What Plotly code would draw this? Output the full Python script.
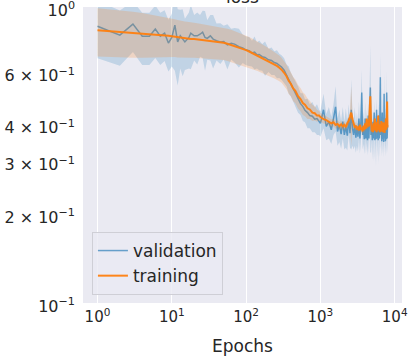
import numpy as np
import plotly.graph_objects as go

epochs = [
    1, 2, 3, 4, 5, 6, 7, 8, 9, 10, 11, 12, 13, 14, 15, 17, 18, 20, 22, 24,
    26, 28, 30, 33, 36, 40, 45, 50, 56, 63, 70, 80, 90, 100,
    110, 120, 130, 140, 150, 165, 180, 200, 220, 240, 260, 280, 300, 325,
    350, 375, 400, 430, 460, 500, 540, 580, 620, 670, 720, 780, 840, 900, 960,
    1000, 1100, 1200, 1300, 1400, 1500, 1600, 1700, 1800, 1900,
    2000, 2100, 2200, 2300, 2400, 2500, 2600, 2700, 2800, 2900,
    3000, 3100, 3200, 3300, 3400, 3500, 3600, 3700, 3800, 3900,
    4000, 4100, 4200, 4300, 4400, 4500, 4600, 4700, 4800, 4900,
    5000, 5100, 5200, 5300, 5400, 5500, 5600, 5700, 5800, 5900,
    6000, 6100, 6200, 6300, 6400, 6500, 6600, 6700, 6800, 6900,
    7000, 7100, 7200, 7300, 7400, 7500, 7600, 7700, 7800, 7900,
    8000,
]

val_loss = [
    0.862, 0.804, 0.876, 0.798, 0.798, 0.843, 0.798, 0.817, 0.756, 0.790,
    0.869, 0.763, 0.800, 0.784, 0.763, 0.790, 0.817, 0.800, 0.800, 0.810,
    0.823, 0.790, 0.784, 0.800, 0.780, 0.770, 0.763, 0.765, 0.745, 0.755,
    0.750, 0.735, 0.728, 0.716,
    0.712, 0.700, 0.705, 0.690, 0.692, 0.680, 0.676, 0.664, 0.660, 0.650,
    0.645, 0.636, 0.628, 0.612, 0.590, 0.570, 0.550, 0.530, 0.510, 0.490,
    0.472, 0.462, 0.448, 0.440, 0.430, 0.428, 0.418, 0.420, 0.410,
    0.405, 0.450, 0.395, 0.410, 0.385, 0.420, 0.460, 0.380, 0.400, 0.372,
    0.410, 0.370, 0.395, 0.368, 0.420, 0.375, 0.450, 0.390, 0.370, 0.400,
    0.362, 0.390, 0.365, 0.420, 0.360, 0.400, 0.515, 0.370, 0.395, 0.358,
    0.420, 0.360, 0.400, 0.355, 0.430, 0.360, 0.470, 0.535, 0.370, 0.400,
    0.355, 0.410, 0.360, 0.440, 0.355, 0.390, 0.358, 0.450, 0.360, 0.400,
    0.355, 0.430, 0.360, 0.410, 0.580, 0.370, 0.400, 0.352, 0.440, 0.358,
    0.395, 0.350, 0.510, 0.360, 0.420, 0.352, 0.400, 0.358, 0.515, 0.360,
    0.400,
]

val_std = [
    0.19, 0.17, 0.17, 0.16, 0.16, 0.17, 0.16, 0.16, 0.15, 0.16,
    0.26, 0.22, 0.18, 0.20, 0.15, 0.17, 0.20, 0.14, 0.16, 0.13,
    0.15, 0.18, 0.12, 0.14, 0.16, 0.11, 0.12, 0.10, 0.13, 0.09,
    0.10, 0.11, 0.08, 0.08,
    0.08, 0.07, 0.09, 0.07, 0.08, 0.07, 0.09, 0.06, 0.07, 0.06,
    0.07, 0.06, 0.06, 0.06, 0.05, 0.06, 0.05, 0.05, 0.05, 0.05,
    0.04, 0.05, 0.04, 0.05, 0.04, 0.05, 0.04, 0.05, 0.04,
    0.04, 0.06, 0.04, 0.05, 0.04, 0.05, 0.08, 0.04, 0.05, 0.04,
    0.05, 0.04, 0.06, 0.04, 0.05, 0.04, 0.12, 0.05, 0.04, 0.06,
    0.04, 0.05, 0.04, 0.06, 0.04, 0.05, 0.10, 0.04, 0.05, 0.04,
    0.06, 0.04, 0.05, 0.04, 0.07, 0.04, 0.06, 0.21, 0.05, 0.04,
    0.05, 0.04, 0.06, 0.04, 0.05, 0.04, 0.07, 0.04, 0.05, 0.04,
    0.06, 0.04, 0.05, 0.04, 0.12, 0.04, 0.05, 0.04, 0.06, 0.04,
    0.05, 0.04, 0.09, 0.04, 0.05, 0.04, 0.06, 0.04, 0.10, 0.04,
    0.05,
]

train_loss = [
    0.836, 0.826, 0.820, 0.815, 0.811, 0.808, 0.805, 0.802, 0.800, 0.797,
    0.794, 0.790, 0.787, 0.786, 0.785, 0.783, 0.781, 0.780, 0.778, 0.776,
    0.774, 0.772, 0.770, 0.768, 0.766, 0.764, 0.762, 0.758, 0.752, 0.745,
    0.738, 0.730, 0.722, 0.716,
    0.708, 0.700, 0.694, 0.688, 0.682, 0.674, 0.666, 0.657, 0.648, 0.640,
    0.633, 0.624, 0.615, 0.600, 0.584, 0.563, 0.551, 0.531, 0.521, 0.500,
    0.489, 0.474, 0.468, 0.455, 0.451, 0.440, 0.438, 0.430, 0.430,
    0.425, 0.418, 0.415, 0.410, 0.405, 0.408, 0.400, 0.403, 0.396, 0.402,
    0.395, 0.400, 0.393, 0.405, 0.412, 0.425, 0.440, 0.418, 0.402, 0.392,
    0.398, 0.386, 0.395, 0.383, 0.400, 0.385, 0.392, 0.380, 0.398, 0.384,
    0.405, 0.388, 0.420, 0.392, 0.415, 0.395, 0.450, 0.500, 0.410, 0.380,
    0.398, 0.378, 0.405, 0.385, 0.420, 0.382, 0.400, 0.378, 0.410, 0.383,
    0.430, 0.385, 0.402, 0.378, 0.398, 0.380, 0.412, 0.384, 0.395, 0.378,
    0.408, 0.382, 0.400, 0.376, 0.395, 0.382, 0.420, 0.385, 0.405, 0.480,
    0.392,
]

train_std = [
    0.155, 0.150, 0.145, 0.140, 0.135, 0.130, 0.127, 0.124, 0.121, 0.118,
    0.116, 0.114, 0.112, 0.111, 0.110, 0.108, 0.107, 0.105, 0.104, 0.103,
    0.102, 0.101, 0.100, 0.099, 0.098, 0.097, 0.096, 0.095, 0.094, 0.093,
    0.092, 0.090, 0.089, 0.087,
    0.085, 0.083, 0.081, 0.079, 0.077, 0.075, 0.073, 0.070, 0.068, 0.066,
    0.064, 0.062, 0.060, 0.058, 0.056, 0.054, 0.052, 0.050, 0.048, 0.046,
    0.044, 0.042, 0.040, 0.036, 0.032, 0.028, 0.024, 0.020, 0.016,
    0.015, 0.014, 0.013, 0.012, 0.012, 0.012, 0.012, 0.012, 0.012, 0.012,
    0.012, 0.012, 0.012, 0.012, 0.015, 0.020, 0.100, 0.020, 0.012, 0.012,
    0.012, 0.012, 0.012, 0.012, 0.012, 0.012, 0.012, 0.012, 0.012, 0.012,
    0.012, 0.012, 0.012, 0.012, 0.015, 0.012, 0.020, 0.050, 0.015, 0.012,
    0.012, 0.012, 0.012, 0.012, 0.012, 0.012, 0.012, 0.012, 0.012, 0.012,
    0.012, 0.012, 0.012, 0.012, 0.012, 0.012, 0.012, 0.012, 0.012, 0.012,
    0.012, 0.012, 0.012, 0.012, 0.012, 0.012, 0.015, 0.012, 0.012, 0.030,
    0.012,
]

x_ticks = [1, 10, 100, 1000, 10000]
x_labels = ["10<sup>0</sup>", "10<sup>1</sup>", "10<sup>2</sup>", "10<sup>3</sup>", "10<sup>4</sup>"]
y_ticks = [0.1, 0.2, 0.3, 0.4, 0.6, 1.0]
y_labels = ["10<sup>\u22121</sup>", "2 \u00d7 10<sup>\u22121</sup>", "3 \u00d7 10<sup>\u22121</sup>",
            "4 \u00d7 10<sup>\u22121</sup>", "6 \u00d7 10<sup>\u22121</sup>", "10<sup>0</sup>"]

BLUE = "31,119,180"
ORANGE = "255,127,14"
TEXT = "#262626"
FONT = "DejaVu Sans"


def add_series(fig, name, mean, std, rgb, line_alpha, width):
    mean = np.array(mean)
    std = np.array(std)
    fig.add_trace(go.Scatter(x=epochs, y=mean, mode="lines", name=name,
                             line=dict(color=f"rgba({rgb},{line_alpha})", width=width)))
    fig.add_trace(go.Scatter(x=epochs, y=mean + std, mode="lines", showlegend=False,
                             line=dict(width=0), hoverinfo="skip"))
    fig.add_trace(go.Scatter(x=epochs, y=mean - std, mode="lines", showlegend=False,
                             line=dict(width=0), fill="tonexty",
                             fillcolor=f"rgba({rgb},0.2)", hoverinfo="skip"))


fig = go.Figure()
add_series(fig, "validation", val_loss, val_std, BLUE, 0.65, 1.5)
add_series(fig, "training", train_loss, train_std, ORANGE, 0.95, 2)

fig.update_layout(
    width=412, height=358,
    margin=dict(l=83, r=10, t=7, b=55),
    paper_bgcolor="white",
    plot_bgcolor="#EAEAF2",
    font=dict(family=FONT, size=15, color=TEXT),
    legend=dict(x=0.028, y=0.027, xanchor="left", yanchor="bottom", traceorder="normal",
                bgcolor="rgba(234,234,242,0.8)", bordercolor="#cfcfd6", borderwidth=1,
                font=dict(size=17, color=TEXT), tracegroupgap=0),
    annotations=[dict(text="loss", x=0.5, y=1, xref="paper", yref="paper",
                      xanchor="center", yanchor="bottom", yshift=-2, showarrow=False,
                      font=dict(size=17, color=TEXT))],
)
fig.update_xaxes(type="log", range=[-0.195, 4.098], tickvals=x_ticks, ticktext=x_labels,
                 showgrid=True, gridcolor="white", gridwidth=1, zeroline=False, automargin=False,
                 tickfont=dict(size=15), ticklabeloverflow="allow", ticklabelstandoff=3,
                 showline=False, ticks="", title=dict(text="Epochs", font=dict(size=17), standoff=15))
fig.update_yaxes(type="log", range=[-1, 0.0005], tickvals=y_ticks, ticktext=y_labels,
                 tickfont=dict(size=16), automargin=False, ticklabeloverflow="allow",
                 ticklabelstandoff=7, ticklabelshift=3,
                 showgrid=False, zeroline=False, showline=False, ticks="")

fig.write_html("out.html", config={"displayModeBar": False},
               post_script="document.body.style.margin='0';")
